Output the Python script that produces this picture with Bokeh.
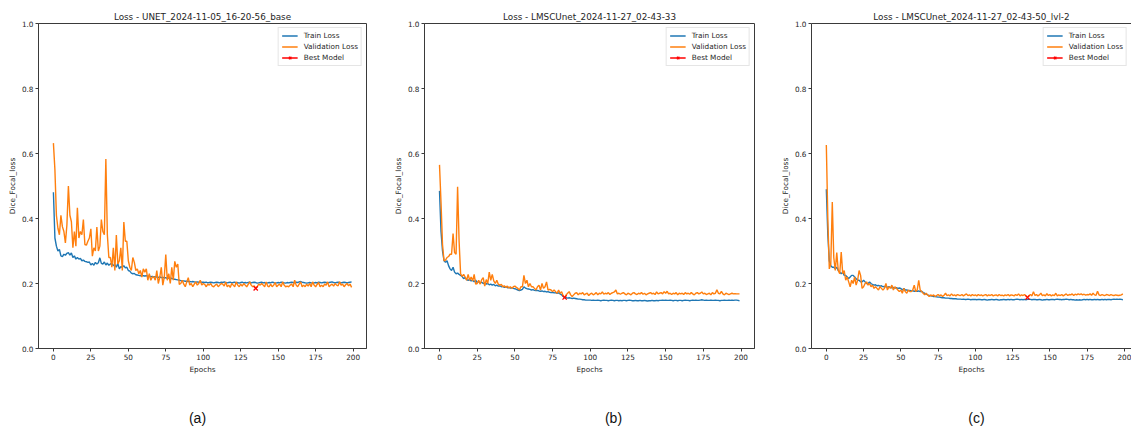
from bokeh.plotting import figure
from bokeh.models import (Range1d, FixedTicker, PrintfTickFormatter, Legend,
                          LegendItem, LinearAxis, Label)
from bokeh.layouts import row, column
from bokeh.embed import file_html
from bokeh.resources import INLINE

# ---------------- data ----------------
epochs = list(range(200))

titles = ["Loss - UNET_2024-11-05_16-20-56_base",
          "Loss - LMSCUnet_2024-11-27_02-43-33",
          "Loss - LMSCUnet_2024-11-27_02-43-50_lvl-2"]
captions = ["(a)", "(b)", "(c)"]
series_names = ["Train Loss", "Validation Loss", "Best Model"]
x_ticks = [0, 25, 50, 75, 100, 125, 150, 175, 200]
y_ticks = [0.0, 0.2, 0.4, 0.6, 0.8, 1.0]

a_train = [
    0.481, 0.34, 0.315, 0.30, 0.305, 0.285, 0.283, 0.29, 0.287, 0.293,
    0.295, 0.287, 0.294, 0.28, 0.285, 0.275, 0.28, 0.275, 0.277, 0.27,
    0.272, 0.268, 0.267, 0.265, 0.266, 0.257, 0.262, 0.256, 0.265, 0.26,
    0.264, 0.279, 0.262, 0.26, 0.266, 0.257, 0.263, 0.256, 0.26, 0.262,
    0.255, 0.258, 0.25, 0.262, 0.245, 0.252, 0.25, 0.255, 0.248, 0.25,
    0.24, 0.238, 0.232, 0.23, 0.231, 0.227, 0.226, 0.225, 0.224, 0.225,
    0.224, 0.223, 0.224, 0.222, 0.223, 0.221, 0.222, 0.22, 0.221, 0.22,
    0.219, 0.22, 0.218, 0.219, 0.217, 0.218, 0.216, 0.217, 0.215, 0.216,
    0.214, 0.213, 0.212, 0.211, 0.21, 0.209, 0.208, 0.208, 0.207, 0.207,
    0.206, 0.206, 0.205, 0.206, 0.205, 0.204, 0.205, 0.204, 0.205, 0.204,
    0.204, 0.203, 0.204, 0.202, 0.203, 0.204, 0.203, 0.202, 0.203, 0.204,
    0.203, 0.202, 0.204, 0.203, 0.205, 0.203, 0.202, 0.203, 0.204, 0.202,
    0.203, 0.204, 0.202, 0.203, 0.201, 0.203, 0.204, 0.202, 0.203, 0.202,
    0.203, 0.204, 0.202, 0.203, 0.204, 0.203, 0.201, 0.202, 0.203, 0.204,
    0.202, 0.203, 0.201, 0.202, 0.203, 0.202, 0.204, 0.203, 0.201, 0.202,
    0.203, 0.202, 0.204, 0.203, 0.202, 0.201, 0.203, 0.202, 0.203, 0.204,
    0.203, 0.202, 0.204, 0.203, 0.205, 0.206, 0.204, 0.203, 0.202, 0.201,
    0.202, 0.203, 0.202, 0.201, 0.202, 0.203, 0.202, 0.204, 0.203, 0.202,
    0.203, 0.204, 0.203, 0.202, 0.203, 0.204, 0.205, 0.203, 0.202, 0.203,
    0.204, 0.203, 0.202, 0.203, 0.204, 0.203, 0.202, 0.203, 0.204, 0.205,
]
a_val = [
    0.632, 0.55, 0.41, 0.37, 0.35, 0.41, 0.375, 0.36, 0.325, 0.38,
    0.50, 0.41, 0.39, 0.31, 0.36, 0.315, 0.433, 0.34, 0.36, 0.35,
    0.397, 0.32, 0.318, 0.33, 0.34, 0.368, 0.284, 0.31, 0.30, 0.374,
    0.30, 0.315, 0.397, 0.36, 0.35, 0.583, 0.35, 0.28, 0.28, 0.25,
    0.31, 0.24, 0.349, 0.26, 0.27, 0.31, 0.24, 0.389, 0.33, 0.33,
    0.27, 0.25, 0.24, 0.28, 0.265, 0.24, 0.245, 0.23, 0.24, 0.22,
    0.245, 0.235, 0.245, 0.21, 0.23, 0.21, 0.22, 0.22, 0.21, 0.24,
    0.20, 0.22, 0.25, 0.195, 0.22, 0.289, 0.21, 0.23, 0.20, 0.25,
    0.21, 0.268, 0.25, 0.26, 0.197, 0.20, 0.21, 0.198, 0.19, 0.205,
    0.218, 0.195, 0.20, 0.19, 0.198, 0.205, 0.195, 0.20, 0.21, 0.195,
    0.20, 0.197, 0.19, 0.198, 0.195, 0.20, 0.192, 0.19, 0.195, 0.198,
    0.19, 0.195, 0.20, 0.198, 0.192, 0.205, 0.19, 0.195, 0.188, 0.20,
    0.195, 0.19, 0.205, 0.195, 0.19, 0.198, 0.192, 0.20, 0.195, 0.19,
    0.197, 0.205, 0.195, 0.19, 0.193, 0.185, 0.19, 0.198, 0.195, 0.20,
    0.195, 0.19, 0.205, 0.192, 0.19, 0.198, 0.19, 0.195, 0.203, 0.19,
    0.195, 0.198, 0.19, 0.205, 0.195, 0.19, 0.192, 0.19, 0.195, 0.198,
    0.19, 0.21, 0.195, 0.19, 0.198, 0.205, 0.19, 0.195, 0.19, 0.198,
    0.192, 0.20, 0.19, 0.205, 0.195, 0.19, 0.197, 0.203, 0.19, 0.195,
    0.19, 0.198, 0.195, 0.205, 0.19, 0.195, 0.198, 0.192, 0.20, 0.195,
    0.193, 0.205, 0.195, 0.198, 0.19, 0.196, 0.20, 0.193, 0.198, 0.188,
]
b_train = [
    0.485, 0.36, 0.30, 0.27, 0.265, 0.27, 0.255, 0.245, 0.24, 0.25,
    0.235, 0.23, 0.232, 0.228, 0.225, 0.222, 0.215, 0.218, 0.212, 0.21,
    0.212, 0.208, 0.21, 0.205, 0.21, 0.203, 0.206, 0.202, 0.204, 0.20,
    0.202, 0.198, 0.20, 0.196, 0.198, 0.195, 0.197, 0.193, 0.195, 0.192,
    0.193, 0.19, 0.191, 0.188, 0.19, 0.187, 0.188, 0.186, 0.187, 0.185,
    0.184, 0.182, 0.18, 0.178, 0.18, 0.182, 0.19, 0.186, 0.184, 0.183,
    0.182, 0.18, 0.181, 0.179, 0.178, 0.179, 0.177, 0.176, 0.177, 0.175,
    0.176, 0.174, 0.175, 0.173, 0.172, 0.173, 0.171, 0.172, 0.17, 0.171,
    0.168, 0.165, 0.16, 0.157, 0.156, 0.155, 0.156, 0.155, 0.154, 0.155,
    0.154, 0.153, 0.152, 0.152, 0.151, 0.15, 0.15, 0.149, 0.149, 0.149,
    0.149, 0.148, 0.149, 0.148, 0.148, 0.149, 0.148, 0.147, 0.148, 0.149,
    0.148, 0.148, 0.147, 0.148, 0.149, 0.148, 0.147, 0.148, 0.148, 0.147,
    0.148, 0.147, 0.148, 0.148, 0.147, 0.148, 0.149, 0.148, 0.147, 0.147,
    0.148, 0.147, 0.147, 0.148, 0.147, 0.147, 0.148, 0.147, 0.146, 0.147,
    0.147, 0.148, 0.147, 0.147, 0.148, 0.147, 0.148, 0.148, 0.149, 0.148,
    0.149, 0.148, 0.148, 0.149, 0.148, 0.147, 0.148, 0.148, 0.147, 0.148,
    0.148, 0.147, 0.148, 0.149, 0.148, 0.148, 0.147, 0.148, 0.149, 0.148,
    0.149, 0.148, 0.148, 0.149, 0.150, 0.149, 0.148, 0.149, 0.148, 0.148,
    0.149, 0.148, 0.148, 0.149, 0.148, 0.148, 0.147, 0.148, 0.148, 0.149,
    0.148, 0.148, 0.149, 0.148, 0.149, 0.148, 0.149, 0.149, 0.148, 0.147,
]
b_val = [
    0.565, 0.45, 0.32, 0.27, 0.272, 0.28, 0.283, 0.29, 0.29, 0.354,
    0.295, 0.29, 0.498, 0.33, 0.23, 0.222, 0.228, 0.22, 0.21, 0.228,
    0.21, 0.22, 0.208, 0.228, 0.198, 0.20, 0.21, 0.198, 0.212, 0.218,
    0.192, 0.212, 0.20, 0.235, 0.21, 0.228, 0.208, 0.20, 0.21, 0.198,
    0.195, 0.197, 0.19, 0.193, 0.188, 0.192, 0.186, 0.19, 0.185, 0.19,
    0.192, 0.188, 0.185, 0.18, 0.19, 0.19, 0.225, 0.20, 0.21, 0.19,
    0.20, 0.19, 0.19, 0.185, 0.18, 0.19, 0.195, 0.18, 0.20, 0.185,
    0.19, 0.205, 0.18, 0.182, 0.18, 0.175, 0.18, 0.175, 0.17, 0.18,
    0.17, 0.175, 0.162, 0.157, 0.165, 0.17, 0.175, 0.165, 0.16, 0.165,
    0.17, 0.172, 0.165, 0.17, 0.168, 0.172, 0.165, 0.168, 0.17, 0.163,
    0.168, 0.17, 0.165, 0.168, 0.172, 0.165, 0.17, 0.168, 0.174, 0.167,
    0.17, 0.168, 0.172, 0.166, 0.17, 0.172, 0.174, 0.18, 0.168, 0.17,
    0.167, 0.17, 0.172, 0.168, 0.165, 0.17, 0.168, 0.165, 0.17, 0.172,
    0.168, 0.166, 0.17, 0.168, 0.172, 0.167, 0.17, 0.165, 0.168, 0.17,
    0.172, 0.168, 0.17, 0.166, 0.174, 0.168, 0.17, 0.172, 0.168, 0.175,
    0.17, 0.176, 0.168, 0.17, 0.166, 0.17, 0.168, 0.172, 0.165, 0.17,
    0.168, 0.17, 0.166, 0.172, 0.168, 0.17, 0.167, 0.172, 0.168, 0.165,
    0.17, 0.172, 0.168, 0.17, 0.174, 0.168, 0.17, 0.166, 0.168, 0.17,
    0.165, 0.172, 0.168, 0.17, 0.181, 0.17, 0.168, 0.176, 0.168, 0.165,
    0.17, 0.168, 0.166, 0.168, 0.17, 0.168, 0.169, 0.168, 0.168, 0.168,
]
c_train = [
    0.49, 0.35, 0.27, 0.255, 0.25, 0.25, 0.245, 0.25, 0.24, 0.235,
    0.23, 0.235, 0.225, 0.225, 0.22, 0.215, 0.22, 0.225, 0.225, 0.22,
    0.215, 0.21, 0.21, 0.205, 0.205, 0.21, 0.205, 0.20, 0.20, 0.205,
    0.20, 0.197, 0.195, 0.196, 0.193, 0.194, 0.192, 0.193, 0.19, 0.191,
    0.19, 0.189, 0.19, 0.188, 0.187, 0.188, 0.186, 0.187, 0.185, 0.186,
    0.185, 0.18, 0.185, 0.18, 0.18, 0.178, 0.179, 0.177, 0.178, 0.176,
    0.177, 0.176, 0.177, 0.175, 0.176, 0.172, 0.17, 0.167, 0.165, 0.163,
    0.162, 0.161, 0.16, 0.16, 0.159, 0.158, 0.158, 0.157, 0.156, 0.156,
    0.155, 0.155, 0.155, 0.154, 0.154, 0.153, 0.153, 0.153, 0.152, 0.152,
    0.152, 0.151, 0.152, 0.151, 0.151, 0.152, 0.151, 0.150, 0.151, 0.151,
    0.151, 0.150, 0.151, 0.151, 0.150, 0.150, 0.151, 0.150, 0.149, 0.150,
    0.150, 0.151, 0.150, 0.150, 0.151, 0.150, 0.149, 0.150, 0.150, 0.151,
    0.150, 0.150, 0.151, 0.150, 0.151, 0.150, 0.150, 0.151, 0.152, 0.151,
    0.150, 0.151, 0.150, 0.151, 0.150, 0.151, 0.152, 0.151, 0.150, 0.151,
    0.151, 0.150, 0.150, 0.151, 0.150, 0.149, 0.150, 0.150, 0.151, 0.150,
    0.150, 0.151, 0.151, 0.150, 0.151, 0.152, 0.151, 0.151, 0.150, 0.151,
    0.151, 0.152, 0.151, 0.150, 0.151, 0.150, 0.150, 0.149, 0.150, 0.149,
    0.150, 0.149, 0.150, 0.151, 0.150, 0.151, 0.150, 0.151, 0.150, 0.150,
    0.151, 0.150, 0.151, 0.150, 0.150, 0.151, 0.150, 0.151, 0.150, 0.151,
    0.151, 0.150, 0.151, 0.152, 0.151, 0.152, 0.151, 0.152, 0.151, 0.150,
]
c_val = [
    0.626, 0.40, 0.245, 0.26, 0.451, 0.28, 0.24, 0.295, 0.24, 0.23,
    0.297, 0.23, 0.24, 0.21, 0.22, 0.205, 0.19, 0.21, 0.20, 0.22,
    0.195, 0.21, 0.24, 0.225, 0.185, 0.19, 0.20, 0.205, 0.195, 0.20,
    0.19, 0.195, 0.185, 0.19, 0.185, 0.18, 0.19, 0.185, 0.18, 0.185,
    0.20, 0.18, 0.19, 0.185, 0.195, 0.18, 0.19, 0.185, 0.18, 0.175,
    0.18, 0.17, 0.185, 0.175, 0.17, 0.18, 0.175, 0.175, 0.18, 0.195,
    0.175, 0.18, 0.21, 0.18, 0.175, 0.17, 0.165, 0.17, 0.165, 0.16,
    0.165, 0.162, 0.165, 0.16, 0.163, 0.166, 0.162, 0.165, 0.16, 0.164,
    0.17, 0.163, 0.165, 0.162, 0.168, 0.163, 0.165, 0.162, 0.166, 0.164,
    0.163, 0.166, 0.162, 0.165, 0.168, 0.163, 0.165, 0.162, 0.166, 0.163,
    0.165, 0.162, 0.166, 0.163, 0.165, 0.162, 0.164, 0.166, 0.162, 0.165,
    0.163, 0.166, 0.162, 0.164, 0.165, 0.162, 0.166, 0.163, 0.164, 0.162,
    0.165, 0.163, 0.166, 0.162, 0.165, 0.164, 0.162, 0.166, 0.163, 0.168,
    0.162, 0.165, 0.163, 0.166, 0.162, 0.157, 0.163, 0.166, 0.162, 0.175,
    0.163, 0.166, 0.162, 0.165, 0.17, 0.163, 0.165, 0.162, 0.169, 0.163,
    0.166, 0.162, 0.165, 0.163, 0.17, 0.162, 0.165, 0.163, 0.166, 0.162,
    0.165, 0.168, 0.163, 0.166, 0.165, 0.168, 0.163, 0.167, 0.165, 0.168,
    0.166, 0.168, 0.165, 0.167, 0.164, 0.166, 0.165, 0.168, 0.164, 0.17,
    0.165, 0.164, 0.176, 0.165, 0.163, 0.166, 0.164, 0.163, 0.166, 0.165,
    0.163, 0.166, 0.164, 0.163, 0.165, 0.164, 0.163, 0.164, 0.165, 0.168,
]

# ---------------- styling ----------------
FONT = "DejaVu Sans"
TRAIN_C = "#1f77b4"
VAL_C = "#ff7f0e"
BEST_C = "#ff0000"
SPINE_C = "#3a3a3a"
TEXT_C = "#262626"
PLOT_H = 376


def style_axis(ax):
    ax.axis_line_color = SPINE_C
    ax.axis_line_width = 1
    ax.major_tick_line_color = SPINE_C
    ax.major_tick_out = 3
    ax.major_tick_in = 0
    ax.minor_tick_line_color = None
    ax.major_label_text_font = FONT
    ax.major_label_text_font_size = "7.3px"
    ax.major_label_text_color = TEXT_C
    ax.major_label_standoff = 2
    ax.axis_label_text_font = FONT
    ax.axis_label_text_font_size = "7.3px"
    ax.axis_label_text_font_style = "normal"
    ax.axis_label_text_color = TEXT_C
    ax.axis_label_standoff = 2


def make_panel(title, train, val, width, b_left, b_right, b_top, x_end,
               open_right=False):
    p = figure(width=width, height=PLOT_H,
               x_range=Range1d(-9.95, x_end), y_range=Range1d(0, 1),
               output_backend="svg", toolbar_location=None,
               min_border_left=b_left, min_border_right=b_right,
               min_border_top=b_top, min_border_bottom=27)
    p.background_fill_color = "white"
    p.border_fill_color = "white"
    p.xgrid.visible = False
    p.ygrid.visible = False

    xax = p.below[0]
    yax = p.left[0]
    style_axis(xax)
    style_axis(yax)
    xax.ticker = FixedTicker(ticks=x_ticks)
    yax.ticker = FixedTicker(ticks=y_ticks)
    yax.formatter = PrintfTickFormatter(format="%.1f")
    xax.axis_label = "Epochs"
    yax.axis_label = "Dice_Focal_loss"

    if open_right:
        # the right spine lies beyond the picture's edge: draw only the top one
        p.outline_line_color = None
        top_ax = LinearAxis(ticker=FixedTicker(ticks=[]),
                            major_label_text_font_size="0px",
                            major_label_standoff=0,
                            major_tick_line_color=None,
                            major_tick_out=0, major_tick_in=0,
                            minor_tick_line_color=None,
                            axis_line_color=SPINE_C, axis_line_width=1)
        p.add_layout(top_ax, "above")
    else:
        p.outline_line_color = SPINE_C
        p.outline_line_width = 1
        p.outline_line_alpha = 1

    # title
    p.title.text = title
    p.title.align = "center"
    p.title.text_font = FONT
    p.title.text_font_size = "8.8px"
    p.title.text_font_style = "normal"
    p.title.text_color = TEXT_C
    p.title.standoff = 3

    r_train = p.line(epochs, train, line_color=TRAIN_C, line_width=1.4)
    r_val = p.line(epochs, val, line_color=VAL_C, line_width=1.4)
    best_i = min(range(len(val)), key=lambda i: val[i])
    r_best_line = p.line([epochs[best_i]], [val[best_i]], line_color=BEST_C,
                         line_width=1.4)
    r_best = p.scatter([epochs[best_i]], [val[best_i]], marker="x", size=6,
                       line_color=BEST_C, line_width=1.3)

    legend = Legend(items=[
        LegendItem(label=series_names[0], renderers=[r_train]),
        LegendItem(label=series_names[1], renderers=[r_val]),
        LegendItem(label=series_names[2], renderers=[r_best_line, r_best]),
    ], location="top_right")
    legend.label_text_font = FONT
    legend.label_text_font_size = "7.3px"
    legend.label_text_color = TEXT_C
    legend.label_height = 9
    legend.glyph_height = 9
    legend.glyph_width = 16
    legend.label_standoff = 6
    legend.spacing = 2
    legend.padding = 3
    legend.margin = 4
    legend.border_line_color = "#cccccc"
    legend.border_line_width = 1
    legend.background_fill_alpha = 0.85
    p.add_layout(legend)
    return p


pa = make_panel(titles[0], a_train, a_val, 380, 38, 14, 23, 208.95)
pb = make_panel(titles[1], b_train, b_val, 380, 44, 6, 21, 208.95)
pc = make_panel(titles[2], c_train, c_val, 371, 51, 0, 23, 204.8,
                open_right=True)

# caption strip
CAP_H = 50
cap = figure(width=1131, height=CAP_H, x_range=Range1d(0, 1131),
             y_range=Range1d(0, CAP_H), output_backend="svg",
             toolbar_location=None, min_border=0)
cap.axis.visible = False
cap.xgrid.visible = False
cap.ygrid.visible = False
cap.outline_line_color = None
cap_x = [197, 613, 976]
for cx, t in zip(cap_x, captions):
    cap.add_layout(Label(x=cx, y=9, text=t, text_align="center",
                         text_baseline="middle", text_font="Liberation Sans",
                         text_font_size="14px", text_color="#111111"))

layout = column(row(pa, pb, pc, spacing=0), cap, spacing=0)

open("out.html", "w").write(file_html(layout, INLINE))
